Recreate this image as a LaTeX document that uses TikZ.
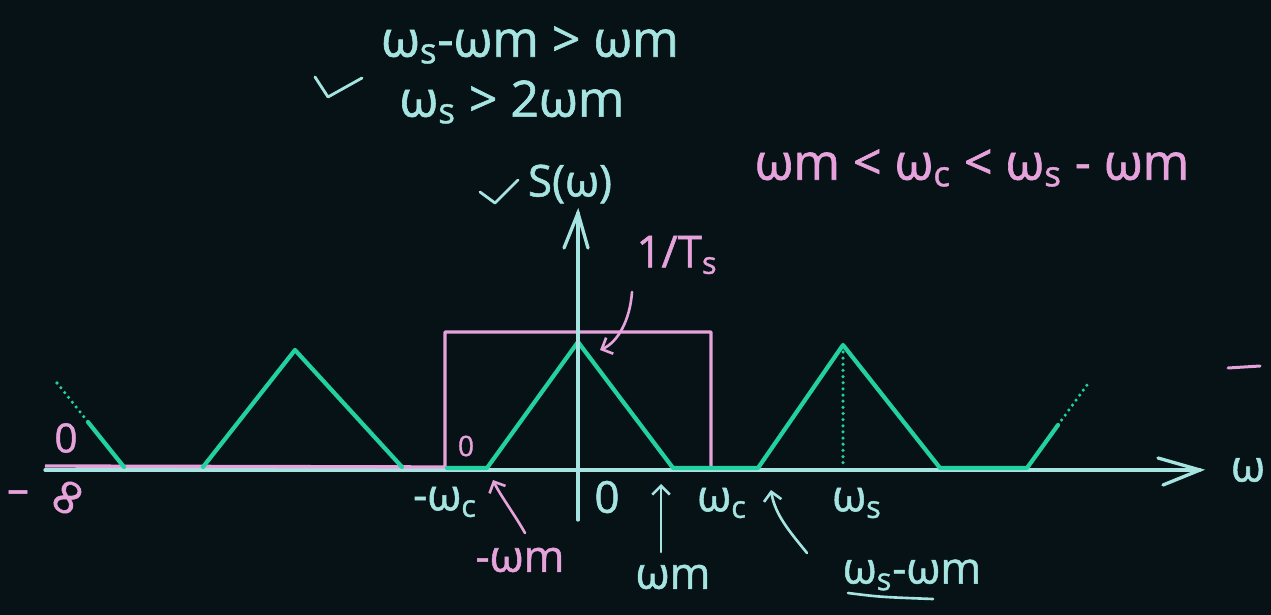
\documentclass[tikz,border=0pt]{standalone}
\usepackage{fontspec}
\setmainfont{Open Sans}[FakeBold=1.2]
\newfontfamily\djv{DejaVu Sans}[FakeBold=1.2]
\usetikzlibrary{arrows.meta}
\definecolor{bg}{HTML}{061215}
\definecolor{cy}{HTML}{A6E4E2}
\definecolor{gr}{HTML}{22D0A2}
\definecolor{pk}{HTML}{E6A2DA}
\newcommand{\wsb}[1]{ω\textsubscript{#1}}
\begin{document}
\begin{tikzpicture}[x=0.02cm,y=-0.02cm,
  axisline/.style={cy, line width=1.9pt, line cap=round},
  spec/.style={gr, line width=2.4pt, line cap=round, line join=round},
  specdot/.style={gr, line width=2pt, line cap=round, dash pattern=on 0pt off 3.5pt},
  filt/.style={pk, line width=1.9pt, line join=round},
  cyt/.style={text=cy, font=\fontsize{25}{28}\selectfont, inner sep=0pt},
  pkt/.style={text=pk, font=\fontsize{25}{28}\selectfont, inner sep=0pt},
  big/.style={font=\fontsize{28.5}{32}\selectfont},
  lblarrow/.style={line width=1.5pt, line cap=round, -{Straight Barb[length=5pt,width=10pt]}}
]
\fill[bg] (0,0) rectangle (1271,615);
\useasboundingbox (0,0) rectangle (1271,615);

% coordinates
\coordinate (xl) at (45,470);
\coordinate (xr) at (1200,470);
\coordinate (yb) at (578,520);
\coordinate (yt) at (578,213);

% horizontal axis
\draw[axisline] (xl) -- (xr);
\draw[axisline] (xr) ++(-42,-12) -- (xr) -- ++(-37,15);

% filter (pink)
\coordinate (fl) at (445,467);
\coordinate (flt) at (445,332);
\coordinate (frt) at (711,332);
\coordinate (fr) at (711,467);
\draw[filt] (45,466) -- (fl) -- (flt) -- (frt) -- (fr);

% spectrum (green)
\draw[specdot] (57,383) -- (88,422);
\draw[spec] (88,422) -- (124,467);
\draw[spec] (203,467) -- (295,350) -- (402,467);
\draw[spec] (447,468) -- (487,468) -- (578,342) -- (673,468) -- (758,468) -- (843,345) -- (940,468) -- (1027,468) -- (1058,425);
\draw[specdot] (1058,425) -- (1087,385);
\draw[specdot] (843,352) -- (843,466);

% vertical axis
\draw[axisline] (yb) -- (yt);
\draw[axisline] (564,248) -- (yt) -- (588,248);

% axis labels
\node[cyt] (omega) at (1248,470) {ω};
\draw[cy, line width=1.6pt, line cap=round, line join=round] (480,192) -- (495,203) -- (518,180);
\node[cyt] (S) at (570,184) {S(ω)};

% top conditions
\node[cyt, big] (c1) at (530,45) {\wsb{s}-ωm > ωm};
\draw[cy, line width=1.6pt, line cap=round, line join=round] (315,77) -- (328,97) -- (362,78);
\node[cyt, big] (c2) at (512,102) {\wsb{s} > 2ωm};
\node[pkt, big] (c3) at (972,168) {ωm < \wsb{c} < \wsb{s} - ωm};

% 1/Ts
\node[pkt] (ts) at (677,255) {1/T\textsubscript{s}};
\coordinate (tsa) at (632,292);
\coordinate (tsb) at (600,350);
\draw[pk, lblarrow] (tsa) .. controls (630,320) and (618,342) .. (tsb);

% zeros and -inf (pink)
\node[pkt, font=\fontsize{16}{18}\selectfont] (z1) at (466,446) {0};
\node[pkt, font=\fontsize{23}{26}\selectfont] (z2) at (66,438) {0};
\node[pkt] (minus) at (18,497) {–};
\node[pkt, font=\djv\fontsize{30}{32}\selectfont, rotate=60] (inf) at (70,499) {∞};

% labels below axis
\node[cyt] (mwc) at (445,502) {-\wsb{c}};
\node[cyt] (zero) at (607,497) {0};
\node[cyt] (wc) at (722,503) {\wsb{c}};
\node[cyt] (ws) at (857,503) {\wsb{s}};
\node[cyt] (wm) at (673,577) {ωm};
\node[cyt] (wswm) at (912,575) {\wsb{s}-ωm};
\node[pkt] (mwm) at (520,560) {-ωm};

\coordinate (wma) at (661,552);
\coordinate (wmb) at (661,484);
\draw[cy, lblarrow] (wma) -- (wmb);

\coordinate (wswma) at (807,553);
\coordinate (wswmb) at (771,490);
\draw[cy, lblarrow] (wswma) .. controls (790,532) and (775,515) .. (wswmb);

\coordinate (mwma) at (525,533);
\coordinate (mwmb) at (493,480);
\draw[pk, lblarrow] (mwma) .. controls (515,515) and (500,495) .. (mwmb);

\coordinate (ula) at (848,593);
\coordinate (ulb) at (933,599);
\draw[cy, line width=1.5pt, line cap=round] (ula) .. controls (880,597) .. (ulb);

% fragment at right edge
\coordinate (fra) at (1228,368);
\coordinate (frb) at (1260,366);
\draw[pk, line width=1.7pt, line cap=round] (fra) -- (frb);
\end{tikzpicture}
\end{document}
